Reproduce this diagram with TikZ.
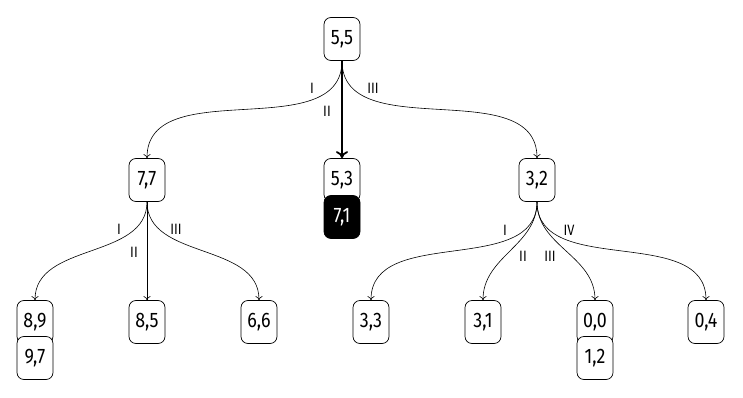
\documentclass[tikz,border=0pt]{standalone}
\usepackage{fontspec}
\setmainfont{Fira Sans}[FakeStretch=0.85]
\usetikzlibrary{arrows.meta,positioning}

\begin{document}
\begin{tikzpicture}[
    x=1pt,y=-1pt,
    every node/.style={font=\fontsize{21}{23}\selectfont},
    pay/.style={draw=black,line width=0.7pt,rounded corners=7pt,minimum width=36pt,minimum height=43pt,inner sep=2pt,fill=white},
    best/.style={pay,fill=black,text=white},
    arr/.style={-{To[length=4pt,width=7pt]},line width=0.6pt},
    move/.style={-{To[length=7pt,width=12pt]},line width=1.8pt},
    lab/.style={font=\fontsize{15}{17}\selectfont,inner sep=1pt}
]
\useasboundingbox (0,0) rectangle (743,398);

% root
\node[pay] (root) at (342,39) {5,5};

% first level
\node[pay] (a) at (147,180) {7,7};
\node[pay] (b) at (342,180) {5,3};
\node[best] (b2) at (342,217) {7,1};
\node[pay] (c) at (537,180) {3,2};

% leaves
\node[pay] (a1) at (35,322) {8,9};
\node[pay] (a1b) at (35,358) {9,7};
\node[pay] (a2) at (147,322) {8,5};
\node[pay] (a3) at (259,322) {6,6};
\node[pay] (c1) at (371,322) {3,3};
\node[pay] (c2) at (483,322) {3,1};
\node[pay] (c3) at (595,322) {0,0};
\node[pay] (c3b) at (595,358) {1,2};
\node[pay] (c4) at (706,322) {0,4};

\draw[arr] (root.south) to[out=-90,in=90] (a.north);
\draw[move] (root.south) -- (b.north);
\draw[arr] (root.south) to[out=-90,in=90] (c.north);
\node[lab] (r1) at (312,88) {I};
\node[lab] (r2) at (327,111) {II};
\node[lab] (r3) at (373,88) {III};

\draw[arr] (a.south) to[out=-90,in=90] (a1.north);
\draw[arr] (a.south) -- (a2.north);
\draw[arr] (a.south) to[out=-90,in=90] (a3.north);
\node[lab] (l1) at (119,229) {I};
\node[lab] (l2) at (134,252) {II};
\node[lab] (l3) at (176,229) {III};

\draw[arr] (c.south) to[out=-90,in=90] (c1.north);
\draw[arr] (c.south) to[out=-90,in=90] (c2.north);
\draw[arr] (c.south) to[out=-90,in=90] (c3.north);
\draw[arr] (c.south) to[out=-90,in=90] (c4.north);
\node[lab] (m1) at (505,230) {I};
\node[lab] (m2) at (523,256) {II};
\node[lab] (m3) at (550,256) {III};
\node[lab] (m4) at (569,230) {IV};
\end{tikzpicture}
\end{document}
